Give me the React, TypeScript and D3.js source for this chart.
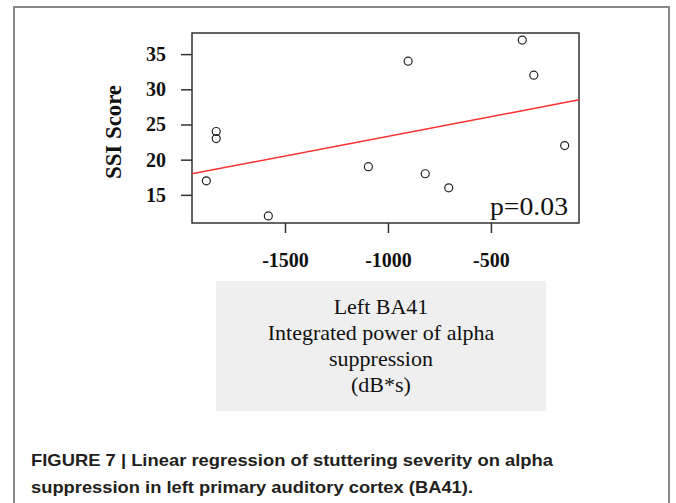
import React, { useRef, useEffect } from "react";
import * as d3 from "d3";

// alpha suppression (dB*s) vs SSI score
const alphaSuppression = [
  -1882, -1834, -1834, -1581, -1095, -902, -819, -705, -348, -292, -142,
];
const ssiScore = [17, 24, 23, 12, 19, 34, 18, 16, 37, 32, 22];
const xTicks = [-1500, -1000, -500];
const yTicks = [15, 20, 25, 30, 35];
const xLabelLines = [
  "Left BA41",
  "Integrated power of alpha",
  "suppression",
  "(dB*s)",
];
const captionLines = [
  "FIGURE 7 | Linear regression of stuttering severity on alpha",
  "suppression in left primary auditory cortex (BA41).",
];
const pValueText = "p=0.03";

const App = () => {
  const ref = useRef<SVGSVGElement>(null);

  useEffect(() => {
    const svg = d3.select(ref.current);
    svg.selectAll("*").remove();

    const W = 676;
    const H = 503;
    const plot = { left: 192, right: 579, top: 33, bottom: 223 };

    svg.attr("width", W).attr("height", H);
    svg.append("rect").attr("width", W).attr("height", H).attr("fill", "#fff");

    // outer frame (open at the bottom)
    svg
      .append("path")
      .attr("d", `M14,${H} L14,7 L669,7 L669,${H}`)
      .attr("fill", "none")
      .attr("stroke", "#888")
      .attr("stroke-width", 2);

    const data = alphaSuppression.map((x, i) => ({ x, y: ssiScore[i] }));

    // R style 4% padding on both axes
    const [xmin, xmax] = d3.extent(data, (d) => d.x) as [number, number];
    const [ymin, ymax] = d3.extent(data, (d) => d.y) as [number, number];
    const xpad = (xmax - xmin) * 0.04;
    const ypad = (ymax - ymin) * 0.04;

    const x = d3
      .scaleLinear()
      .domain([xmin - xpad, xmax + xpad])
      .range([plot.left, plot.right]);
    const y = d3
      .scaleLinear()
      .domain([ymin - ypad, ymax + ypad])
      .range([plot.bottom, plot.top]);

    const serif = "'Liberation Serif', 'Times New Roman', serif";

    // axes
    const yAxis = svg
      .append("g")
      .attr("transform", `translate(${plot.left},0)`)
      .call(
        d3
          .axisLeft(y)
          .tickValues(yTicks)
          .tickSize(11)
          .tickPadding(15)
          .tickFormat((d) => String(d))
      );
    const xAxis = svg
      .append("g")
      .attr("transform", `translate(0,${plot.bottom})`)
      .call(
        d3
          .axisBottom(x)
          .tickValues(xTicks)
          .tickSize(10)
          .tickPadding(20)
          .tickFormat((d) => String(d))
      );
    [yAxis, xAxis].forEach((ax) => {
      ax.select(".domain").remove();
      ax.selectAll("line").attr("stroke", "#333").attr("stroke-width", 1.5);
      ax.selectAll("text")
        .attr("fill", "#111")
        .style("font-family", serif)
        .style("font-weight", "bold")
        .style("font-size", "20px");
    });

    // box
    svg
      .append("rect")
      .attr("x", plot.left)
      .attr("y", plot.top)
      .attr("width", plot.right - plot.left)
      .attr("height", plot.bottom - plot.top)
      .attr("fill", "none")
      .attr("stroke", "#333")
      .attr("stroke-width", 1.5);

    // least squares fit
    const mx = d3.mean(data, (d) => d.x) as number;
    const my = d3.mean(data, (d) => d.y) as number;
    const sxy = d3.sum(data, (d) => (d.x - mx) * (d.y - my));
    const sxx = d3.sum(data, (d) => (d.x - mx) ** 2);
    const slope = sxy / sxx;
    const intercept = my - slope * mx;
    const [x0, x1] = x.domain();

    svg
      .append("line")
      .attr("x1", x(x0))
      .attr("y1", y(intercept + slope * x0))
      .attr("x2", x(x1))
      .attr("y2", y(intercept + slope * x1))
      .attr("stroke", "#ff3030")
      .attr("stroke-width", 1.5);

    svg
      .append("g")
      .selectAll("circle")
      .data(data)
      .enter()
      .append("circle")
      .attr("cx", (d) => x(d.x))
      .attr("cy", (d) => y(d.y))
      .attr("r", 4)
      .attr("fill", "none")
      .attr("stroke", "#222")
      .attr("stroke-width", 1.2);

    svg
      .append("text")
      .attr("x", 568)
      .attr("y", 215)
      .attr("text-anchor", "end")
      .attr("textLength", 78)
      .attr("lengthAdjust", "spacingAndGlyphs")
      .style("font-family", serif)
      .style("font-size", "25px")
      .attr("fill", "#111")
      .text(pValueText);

    // y label
    svg
      .append("text")
      .attr("transform", "translate(121,132) rotate(-90)")
      .attr("text-anchor", "middle")
      .attr("textLength", 94)
      .attr("lengthAdjust", "spacingAndGlyphs")
      .style("font-family", serif)
      .style("font-weight", "bold")
      .style("font-size", "23px")
      .attr("fill", "#111")
      .text("SSI Score");

    // x label box
    svg
      .append("rect")
      .attr("x", 216)
      .attr("y", 281)
      .attr("width", 330)
      .attr("height", 130)
      .attr("fill", "#efefef");

    const lineY = [314, 340, 366, 392];
    xLabelLines.forEach((t, i) => {
      svg
        .append("text")
        .attr("x", 381)
        .attr("y", lineY[i])
        .attr("text-anchor", "middle")
        .style("font-family", serif)
        .style("font-size", "22px")
        .attr("fill", "#111")
        .text(t);
    });

    // caption
    const capWidths = [522, 442];
    captionLines.forEach((t, i) => {
      svg
        .append("text")
        .attr("x", 31)
        .attr("y", 466 + i * 27)
        .attr("textLength", capWidths[i])
        .attr("lengthAdjust", "spacingAndGlyphs")
        .style("font-family", "'Liberation Sans', Arial, sans-serif")
        .style("font-weight", "bold")
        .style("font-size", "16.5px")
        .attr("fill", "#231f20")
        .text(t);
    });
  }, []);

  return (
    <svg
      ref={ref}
      style={{ display: "block", position: "absolute", left: 0, top: 0 }}
    />
  );
};

export default App;
